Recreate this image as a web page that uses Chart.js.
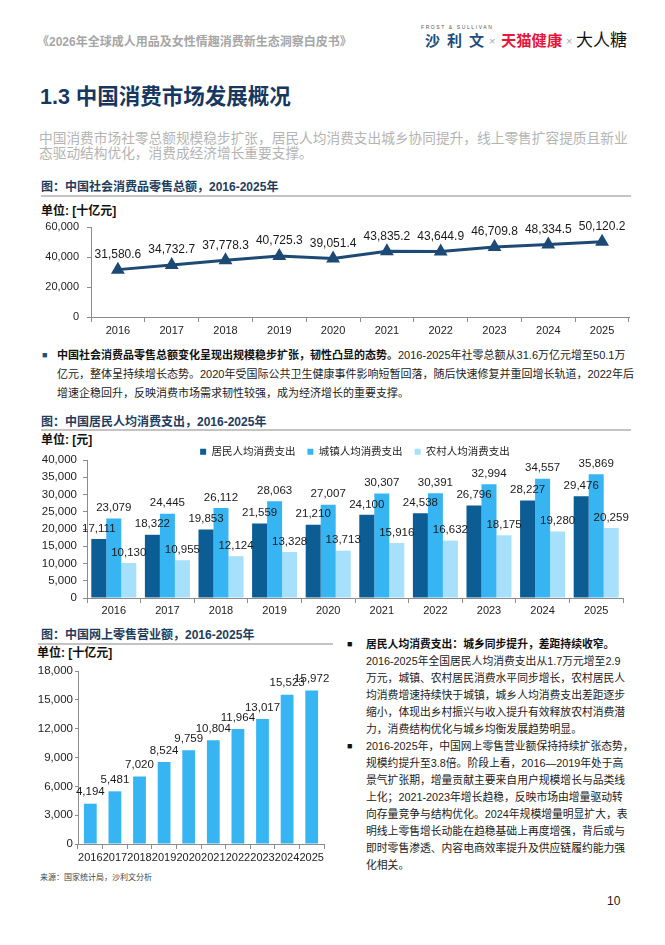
<!DOCTYPE html>
<html lang="zh-CN">
<head>
<meta charset="utf-8">
<title>1.3 中国消费市场发展概况</title>
<script src="https://cdn.jsdelivr.net/npm/chart.js@4.4.1/dist/chart.umd.min.js"></script>
<style>
  html, body { margin: 0; padding: 0; background: #fff; }
  body {
    width: 665px; height: 945px; position: relative; overflow: hidden;
    font-family: "Liberation Sans", "Noto Sans CJK SC", sans-serif; color: #222;
  }
  .t { position: absolute; white-space: nowrap; }
  canvas { position: absolute; }
  .cap { font-size: 12px; line-height: 16px; font-weight: bold; color: #1f3d5c; }
  .unit { font-size: 12px; line-height: 16px; font-weight: bold; color: #111; }
  .rule { position: absolute; height: 1.5px; background: #c4c4c4; }
  .para { font-size: 11px; line-height: 19px; color: #222; }
  .col { font-size: 10.8px; line-height: 17px; color: #222; }
  .sq { position: absolute; font-size: 9px; }
</style>
</head>
<body>

<!-- page header -->
<div class="t" style="left:37px; top:34px; font-size:12px; line-height:16px; font-weight:bold; color:#a6a6a6;">《2026年全球成人用品及女性情趣消费新生态洞察白皮书》</div>
<div class="t" style="left:421px; top:24px; font-size:5px; line-height:6px; letter-spacing:1.6px; color:#555;">FROST &amp; SULLIVAN</div>
<div class="t" style="left:425px; top:31px; font-size:15px; line-height:20px; font-weight:bold; letter-spacing:7px; color:#1f4e79;">沙利文</div>
<div class="t" style="left:489px; top:33px; font-size:11px; line-height:16px; color:#aaa;">×</div>
<div class="t" style="left:501px; top:31px; font-size:15.3px; line-height:20px; font-weight:bold; color:#e5173d;">天猫健康</div>
<div class="t" style="left:566px; top:33px; font-size:11px; line-height:16px; color:#aaa;">×</div>
<div class="t" style="left:576px; top:30px; font-size:17px; line-height:21px; color:#111;">大人糖</div>

<!-- title and intro -->
<div class="t" style="left:40px; top:83px; font-size:21.5px; line-height:28px; font-weight:bold; color:#17375e;">1.3 中国消费市场发展概况</div>
<div class="t" style="left:39px; top:132px; font-size:13.7px; line-height:14.5px; color:#b4b4b4;">中国消费市场社零总额规模稳步扩张，居民人均消费支出城乡协同提升，线上零售扩容提质且新业<br>态驱动结构优化，消费成经济增长重要支撑。</div>

<!-- chart 1 -->
<div class="t cap" style="left:41px; top:179px;">图：中国社会消费品零售总额，2016-2025年</div>
<div class="rule" style="left:41px; top:195px; width:590px;"></div>
<div class="t unit" style="left:41px; top:203px;">单位: [十亿元]</div>
<canvas id="retailChart" width="610" height="132" style="left:30px; top:212px;"></canvas>

<div class="sq" style="left:42px; top:349px; color:#1f4e79; font-size:9px; line-height:12px;">■</div>
<div class="t para" style="left:57px; top:345.5px;"><b style="color:#111;">中国社会消费品零售总额变化呈现出规模稳步扩张，韧性凸显的态势。</b>2016-2025年社零总额从31.6万亿元增至50.1万<br>亿元，整体呈持续增长态势。2020年受国际公共卫生健康事件影响短暂回落，随后快速修复并重回增长轨道，2022年后<br>增速企稳回升，反映消费市场需求韧性较强，成为经济增长的重要支撑。</div>

<!-- chart 2 -->
<div class="t cap" style="left:41px; top:414px;">图：中国居民人均消费支出，2016-2025年</div>
<div class="rule" style="left:41px; top:429px; width:590px;"></div>
<div class="t unit" style="left:41px; top:432px;">单位: [元]</div>
<canvas id="spendChart" width="610" height="195" style="left:30px; top:430px;"></canvas>

<!-- chart 3 -->
<div class="t cap" style="left:41px; top:627px;">图：中国网上零售营业额，2016-2025年</div>
<div class="rule" style="left:38px; top:643px; width:295px;"></div>
<div class="t unit" style="left:37px; top:645px;">单位: [十亿元]</div>
<canvas id="onlineChart" width="305" height="210" style="left:30px; top:660px;"></canvas>
<div class="t" style="left:40px; top:873px; font-size:8px; line-height:10px; color:#444;">来源：国家统计局，沙利文分析</div>

<!-- right column -->
<div class="sq" style="left:347px; top:638px; color:#111; line-height:12px;">■</div>
<div class="sq" style="left:347px; top:740px; color:#111; line-height:12px;">■</div>
<div class="t col" style="left:366px; top:635.5px;"><b style="color:#111;">居民人均消费支出：城乡同步提升，差距持续收窄。</b><br>2016-2025年全国居民人均消费支出从1.7万元增至2.9<br>万元，城镇、农村居民消费水平同步增长，农村居民人<br>均消费增速持续快于城镇，城乡人均消费支出差距逐步<br>缩小，体现出乡村振兴与收入提升有效释放农村消费潜<br>力，消费结构优化与城乡均衡发展趋势明显。<br>2016-2025年，中国网上零售营业额保持持续扩张态势，<br>规模约提升至3.8倍。阶段上看，2016—2019年处于高<br>景气扩张期，增量贡献主要来自用户规模增长与品类线<br>上化；2021-2023年增长趋稳，反映市场由增量驱动转<br>向存量竞争与结构优化。2024年规模增量明显扩大，表<br>明线上零售增长动能在趋稳基础上再度增强，背后或与<br>即时零售渗透、内容电商效率提升及供应链履约能力强<br>化相关。</div>

<div class="t" style="left:607px; top:893px; font-size:12px; line-height:16px; color:#222;">10</div>

<script>
// data
const years = ['2016', '2017', '2018', '2019', '2020', '2021', '2022', '2023', '2024', '2025'];
const retailTotal = [31580.6, 34732.7, 37778.3, 40725.3, 39051.4, 43835.2, 43644.9, 46709.8, 48334.5, 50120.2];
const residentSpend = [17111, 18322, 19853, 21559, 21210, 24100, 24538, 26796, 28227, 29476];
const urbanSpend = [23079, 24445, 26112, 28063, 27007, 30307, 30391, 32994, 34557, 35869];
const ruralSpend = [10130, 10955, 12124, 13328, 13713, 15916, 16632, 18175, 19280, 20259];
const onlineRetail = [4194, 5481, 7020, 8524, 9759, 10804, 11964, 13017, 15523, 15972];
const spendNames = ['居民人均消费支出', '城镇人均消费支出', '农村人均消费支出'];

const NAVY = '#1c4a74';
const AXIS = '#8c8c8c';
const DARK = '#0b5d93';
const MID = '#37b5f2';
const LIGHT = '#a6e0fa';

Chart.defaults.font.family = '"Liberation Sans", "Noto Sans CJK SC", sans-serif';
Chart.defaults.color = '#222';

function fmt(v, d) {
    return v.toLocaleString('en-US', { minimumFractionDigits: d, maximumFractionDigits: d });
}

// value labels above every point / bar
const valueLabels = {
    id: 'valueLabels',
    afterDatasetsDraw(chart, args, opts) {
        const ctx = chart.ctx;
        ctx.save();
        ctx.font = opts.font;
        ctx.fillStyle = '#1a1a1a';
        ctx.textAlign = 'center';
        ctx.textBaseline = 'middle';
        chart.data.datasets.forEach((ds, di) => {
            chart.getDatasetMeta(di).data.forEach((el, i) => {
                ctx.fillText(fmt(ds.data[i], opts.decimals), el.x, el.y - opts.offset);
            });
        });
        ctx.restore();
    }
};

function yAxis(max, step, width, tick, pad, size) {
    return {
        min: 0, max: max,
        ticks: { stepSize: step, padding: pad, font: { size: size }, callback: v => fmt(v, 0) },
        grid: { drawOnChartArea: false, tickLength: tick, color: AXIS },
        border: { color: AXIS },
        afterFit: s => { s.width = width; }
    };
}
function xAxis(height, pad, size) {
    return {
        offset: true,
        ticks: { padding: pad, font: { size: size }, autoSkip: false, maxRotation: 0, minRotation: 0 },
        grid: { offset: true, drawOnChartArea: false, tickLength: 5, color: AXIS },
        border: { color: AXIS },
        afterFit: s => { s.height = height; }
    };
}

// chart 1: total retail sales of consumer goods
new Chart(document.getElementById('retailChart'), {
    type: 'line',
    data: {
        labels: years,
        datasets: [{
            data: retailTotal,
            borderColor: NAVY,
            backgroundColor: NAVY,
            borderWidth: 3,
            pointStyle: 'triangle',
            pointRadius: 5,
            pointBackgroundColor: NAVY,
            pointBorderColor: NAVY,
            tension: 0,
            clip: false
        }]
    },
    options: {
        responsive: false,
        animation: false,
        layout: { padding: { top: 15, right: 11, left: 0, bottom: 0 } },
        plugins: {
            legend: { display: false },
            tooltip: { enabled: false },
            valueLabels: { offset: 15, decimals: 1, font: '12px "Liberation Sans"' }
        },
        scales: {
            x: xAxis(27, 2, 11),
            y: yAxis(60000, 20000, 61, 4, 8, 11)
        }
    },
    plugins: [valueLabels]
});

// chart 2: per-capita consumption spending
new Chart(document.getElementById('spendChart'), {
    type: 'bar',
    data: {
        labels: years,
        datasets: [
            { label: spendNames[0], data: residentSpend, backgroundColor: DARK },
            { label: spendNames[1], data: urbanSpend, backgroundColor: MID },
            { label: spendNames[2], data: ruralSpend, backgroundColor: LIGHT }
        ]
    },
    options: {
        responsive: false,
        animation: false,
        categoryPercentage: 0.84,
        barPercentage: 1.0,
        layout: { padding: { top: 4.5, right: 17, left: 0, bottom: 0 } },
        plugins: {
            legend: {
                position: 'top',
                fullSize: false,
                maxHeight: 25.5,
                labels: { boxWidth: 6, boxHeight: 6, padding: 12, font: { size: 10.5 }, color: '#222' }
            },
            tooltip: { enabled: false },
            valueLabels: { offset: 10.5, decimals: 0, font: '11.5px "Liberation Sans"' }
        },
        scales: {
            x: xAxis(27, 1, 11),
            y: yAxis(40000, 5000, 57, 4, 6, 11.5)
        }
    },
    plugins: [valueLabels]
});

// chart 3: online retail sales
new Chart(document.getElementById('onlineChart'), {
    type: 'bar',
    data: {
        labels: years,
        datasets: [{ data: onlineRetail, backgroundColor: MID }]
    },
    options: {
        responsive: false,
        animation: false,
        categoryPercentage: 1.0,
        barPercentage: 0.52,
        layout: { padding: { top: 11, right: 11, left: 0, bottom: 0 } },
        plugins: {
            legend: { display: false },
            tooltip: { enabled: false },
            valueLabels: { offset: 11.5, decimals: 0, font: '11.5px "Liberation Sans"' }
        },
        scales: {
            x: xAxis(26, 2, 11),
            y: yAxis(18000, 3000, 48, 3, 2, 11.5)
        }
    },
    plugins: [valueLabels]
});
</script>
</body>
</html>
